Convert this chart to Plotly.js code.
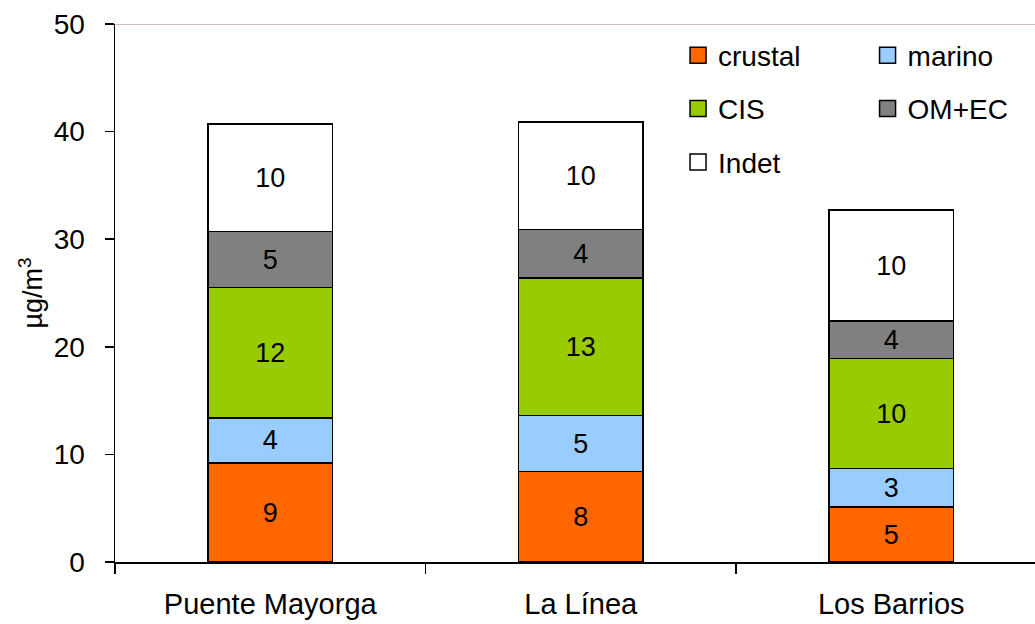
<!DOCTYPE html>
<html>
<head>
<meta charset="utf-8">
<script src="https://cdn.plot.ly/plotly-3.0.1.min.js"></script>
<style>html,body{margin:0;padding:0;background:#fff;}#chart{width:1035px;height:624px;}</style>
</head>
<body>
<div id="chart"></div>
<script>
// Data (µg/m3)
const sites = ["Puente Mayorga", "La Línea", "Los Barrios"];
const seriesNames = ["crustal", "marino", "CIS", "OM+EC", "Indet"];
const crustal = [9.2, 8.4, 5.1];
const marino  = [4.2, 5.2, 3.6];
const cis     = [12.1, 12.8, 10.2];
const omec    = [5.2, 4.5, 3.5];
const indet   = [10.0, 10.0, 10.3];
// labels as printed on the bars
const crustalLbl = ["9", "8", "5"];
const marinoLbl  = ["4", "5", "3"];
const cisLbl     = ["12", "13", "10"];
const omecLbl    = ["5", "4", "4"];
const indetLbl   = ["10", "10", "10"];
const yTicks = [0, 10, 20, 30, 40, 50];

const colors = ["#FF6600", "#99CCFF", "#99CC00", "#808080", "#FFFFFF"];
const values = [crustal, marino, cis, omec, indet];
const labels = [crustalLbl, marinoLbl, cisLbl, omecLbl, indetLbl];
const legendOf = ["legend", "legend2", "legend", "legend2", "legend"];
const FONT = "Liberation Sans, Arial, Helvetica, sans-serif";

const traces = [];
values.forEach((v, i) => {
  traces.push({
    type: "bar", x: sites, y: v, name: seriesNames[i],
    text: labels[i], textposition: "inside", insidetextanchor: "middle",
    textangle: 0, constraintext: "none",
    textfont: {family: FONT, size: 27, color: "#000"},
    marker: {color: colors[i], line: {color: "#000", width: 1.5}},
    width: 0.4, showlegend: false, hoverinfo: "skip"
  });
});
values.forEach((v, i) => {
  traces.push({
    type: "scatter", mode: "markers", x: [null], y: [null], name: seriesNames[i],
    legend: legendOf[i], legendgroup: "g" + i,
    marker: {symbol: "square", size: 16, color: colors[i], line: {color: "#000", width: 1.5}},
    hoverinfo: "skip"
  });
});

const legendCommon = {
  font: {family: FONT, size: 28, color: "#000"},
  bgcolor: "rgba(0,0,0,0)", yanchor: "top", xanchor: "left",
  tracegroupgap: 14, orientation: "v"
};

const layout = {
  width: 1035, height: 624,
  margin: {l: 115, r: 0, t: 24, b: 62},
  paper_bgcolor: "#fff", plot_bgcolor: "#fff",
  barmode: "stack",
  font: {family: FONT, color: "#000"},
  xaxis: {
    type: "category", range: [-0.5, 2.463], tickson: "boundaries",
    ticks: "outside", ticklen: 10, tickwidth: 1.5, tickcolor: "#000",
    showline: true, linecolor: "#000", linewidth: 1.5,
    showgrid: false, zeroline: false, fixedrange: true,
    tickfont: {family: FONT, size: 29, color: "#000"},
    ticklabelstandoff: 16
  },
  yaxis: {
    range: [0, 50], tickvals: yTicks, ticks: "outside", ticklen: 9,
    tickwidth: 1.5, tickcolor: "#000",
    showline: true, linecolor: "#000", linewidth: 1.5,
    showgrid: false, zeroline: false, fixedrange: true,
    tickfont: {family: FONT, size: 28, color: "#000"},
    ticklabelstandoff: 14,
    title: {text: "µg/m<sup>3</sup>", font: {family: FONT, size: 27, color: "#000"}, standoff: 3}
  },
  legend: Object.assign({x: 0.612, y: 0.988}, legendCommon),
  legend2: Object.assign({x: 0.818, y: 0.988}, legendCommon),
  shapes: [{type: "line", xref: "paper", yref: "y", x0: 0, x1: 1, y0: 50, y1: 50,
            line: {color: "rgb(160,120,120)", width: 1}}],
  showlegend: true
};

Plotly.newPlot("chart", traces, layout, {displayModeBar: false, staticPlot: true});
</script>
</body>
</html>
